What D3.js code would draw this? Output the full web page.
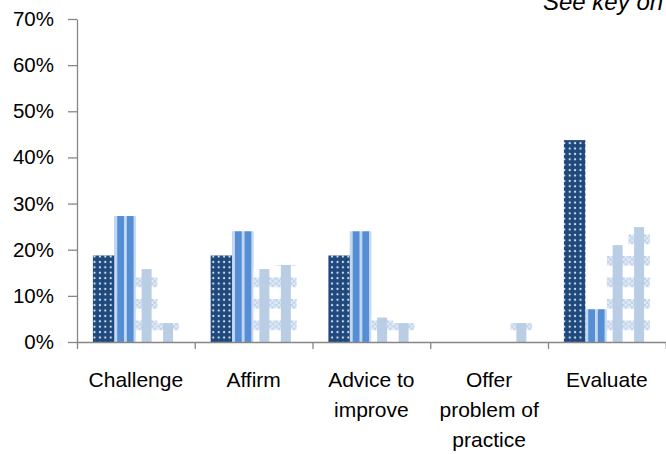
<!DOCTYPE html>
<html>
<head>
<meta charset="utf-8">
<script src="https://cdn.jsdelivr.net/npm/d3@7"></script>
<style>
  html, body { margin: 0; padding: 0; background: #fff; }
  svg { display: block; }
</style>
</head>
<body>
<div class="container"></div>
<script>
const WIDTH = 666
const HEIGHT = 454

// categories and their wrapped label lines
const categories = ['Challenge', 'Affirm', 'Advice to improve', 'Offer problem of practice', 'Evaluate']
const labelLines = [['Challenge'], ['Affirm'], ['Advice to', 'improve'], ['Offer', 'problem of', 'practice'], ['Evaluate']]

// series values (%)
const seriesNames = ['s1', 's2', 's3', 's4']
const s1Values = [18.75, 18.75, 18.75, 0, 43.75]
const s2Values = [27.3, 24.0, 24.0, 0, 7.1]
const s3Values = [15.8, 15.8, 5.3, 0, 21.0]
const s4Values = [4.1, 16.7, 4.1, 4.1, 24.9]

const yTicks = [0, 10, 20, 30, 40, 50, 60, 70]
const note = 'See key on chart'

const valuesBySeries = [s1Values, s2Values, s3Values, s4Values]

const FONT = '"Liberation Sans", Arial, sans-serif'
const AXIS = '#868686'

const svg = d3.select('.container').append('svg')
    .attr('xmlns', 'http://www.w3.org/2000/svg')
    .attr('width', WIDTH)
    .attr('height', HEIGHT)
    .attr('viewBox', `0 0 ${WIDTH} ${HEIGHT}`)

const x0 = d3.scaleBand().domain(categories).range([77, 665.75]).padding(0)
const x1 = d3.scaleBand().domain(seriesNames).range([0, x0.bandwidth()]).paddingInner(0).paddingOuter(0.74)
const y = d3.scaleLinear().domain([0, 70]).range([342, 19])
const xb = d3.scaleLinear().domain([0, categories.length]).range(x0.range())

const defs = svg.append('defs')

// dotted navy (series 1)
const dots = defs.append('pattern')
    .attr('id', 'p-dots')
    .attr('patternUnits', 'userSpaceOnUse')
    .attr('width', 5.4).attr('height', 5.4)
dots.append('rect').attr('width', 5.4).attr('height', 5.4).attr('fill', '#1f497d')
dots.append('circle').attr('cx', 2.7).attr('cy', 2.7).attr('r', 1.1).attr('fill', '#d5e0ee')

// vertical stripes, anchored at the bar's left edge (series 2)
function stripePattern(id, bx) {
    const p = defs.append('pattern')
        .attr('id', id)
        .attr('patternUnits', 'userSpaceOnUse')
        .attr('x', bx).attr('y', 0)
        .attr('width', 9.6).attr('height', 10)
    p.append('rect').attr('width', 9.6).attr('height', 10).attr('fill', '#558ed5')
    p.append('rect').attr('width', 2.8).attr('height', 10).attr('fill', '#c6d9f1')
}

// light plaid: one vertical band per bar + checkered rows from the baseline (series 3, 4)
function plaidPattern(id, cx) {
    const pw = 20, ph = 21.5, band = 9.5, sq = 2.4
    const p = defs.append('pattern')
        .attr('id', id)
        .attr('patternUnits', 'userSpaceOnUse')
        .attr('x', cx - 5).attr('y', y(0))
        .attr('width', pw).attr('height', ph)
    p.append('rect').attr('width', pw).attr('height', ph).attr('fill', '#ffffff')
    p.append('rect').attr('width', pw).attr('height', band).attr('fill', '#e6eef8')
    for (let r = 0; r * sq < band; r++) {
        for (let c = 0; c * sq < pw; c++) {
            if ((r + c) % 2 === 0) {
                p.append('rect')
                    .attr('x', c * sq).attr('y', r * sq)
                    .attr('width', sq).attr('height', Math.min(sq, band - r * sq))
                    .attr('fill', '#bcd0e8')
            }
        }
    }
    p.append('rect').attr('width', 10).attr('height', ph).attr('fill', '#b9cde5')
}

const bars = []
categories.forEach((cat, ci) => {
    seriesNames.forEach((s, si) => {
        bars.push({ cat, ci, s, si, value: valuesBySeries[si][ci] })
    })
})

bars.forEach(d => {
    const bx = x0(d.cat) + x1(d.s)
    d.x = bx
    if (d.si === 0) d.fill = 'url(#p-dots)'
    else if (d.si === 1) {
        stripePattern(`p-str-${d.ci}`, bx)
        d.fill = `url(#p-str-${d.ci})`
    } else {
        plaidPattern(`p-pl-${d.si}-${d.ci}`, bx + x1.bandwidth() / 2)
        d.fill = `url(#p-pl-${d.si}-${d.ci})`
    }
})

svg.append('g')
    .selectAll('rect')
    .data(bars.filter(d => d.value > 0))
    .join('rect')
    .attr('x', d => d.x)
    .attr('y', d => y(d.value))
    .attr('width', x1.bandwidth())
    .attr('height', d => y(0) - y(d.value))
    .attr('fill', d => d.fill)

// y axis
const yAxis = svg.append('g')
    .attr('transform', `translate(${x0.range()[0]},0)`)
    .call(d3.axisLeft(y).tickValues(yTicks).tickFormat(d => d + '%').tickSize(9).tickSizeOuter(0).tickPadding(14))
yAxis.selectAll('path, line').attr('stroke', AXIS).attr('stroke-width', 1.3)
yAxis.selectAll('text')
    .attr('font-family', FONT)
    .attr('font-size', 20.5)
    .attr('fill', '#000')

// x axis with ticks on category boundaries
const xAxis = svg.append('g')
    .attr('transform', `translate(0,${y(0)})`)
    .call(d3.axisBottom(xb).tickValues(d3.range(categories.length + 1)).tickFormat('').tickSize(7).tickSizeOuter(0))
xAxis.selectAll('path, line').attr('stroke', AXIS).attr('stroke-width', 1.3)
xAxis.select('.domain').attr('d', `M${x0.range()[0]},0.5H${WIDTH}`)

// category labels
svg.append('g')
    .attr('font-family', FONT)
    .attr('font-size', 21)
    .attr('text-anchor', 'middle')
    .selectAll('text')
    .data(categories)
    .join('text')
    .attr('x', d => x0(d) + x0.bandwidth() / 2)
    .attr('y', 387)
    .selectAll('tspan')
    .data((d, i) => labelLines[i])
    .join('tspan')
    .attr('x', function () { return this.parentNode.getAttribute('x') })
    .attr('dy', (d, i) => i === 0 ? 0 : 30)
    .text(d => d)

// note at top right, clipped by the frame as in the original
svg.append('text')
    .attr('x', 543)
    .attr('y', 10)
    .attr('font-family', FONT)
    .attr('font-style', 'italic')
    .attr('font-size', 24)
    .text(note)
</script>
</body>
</html>
